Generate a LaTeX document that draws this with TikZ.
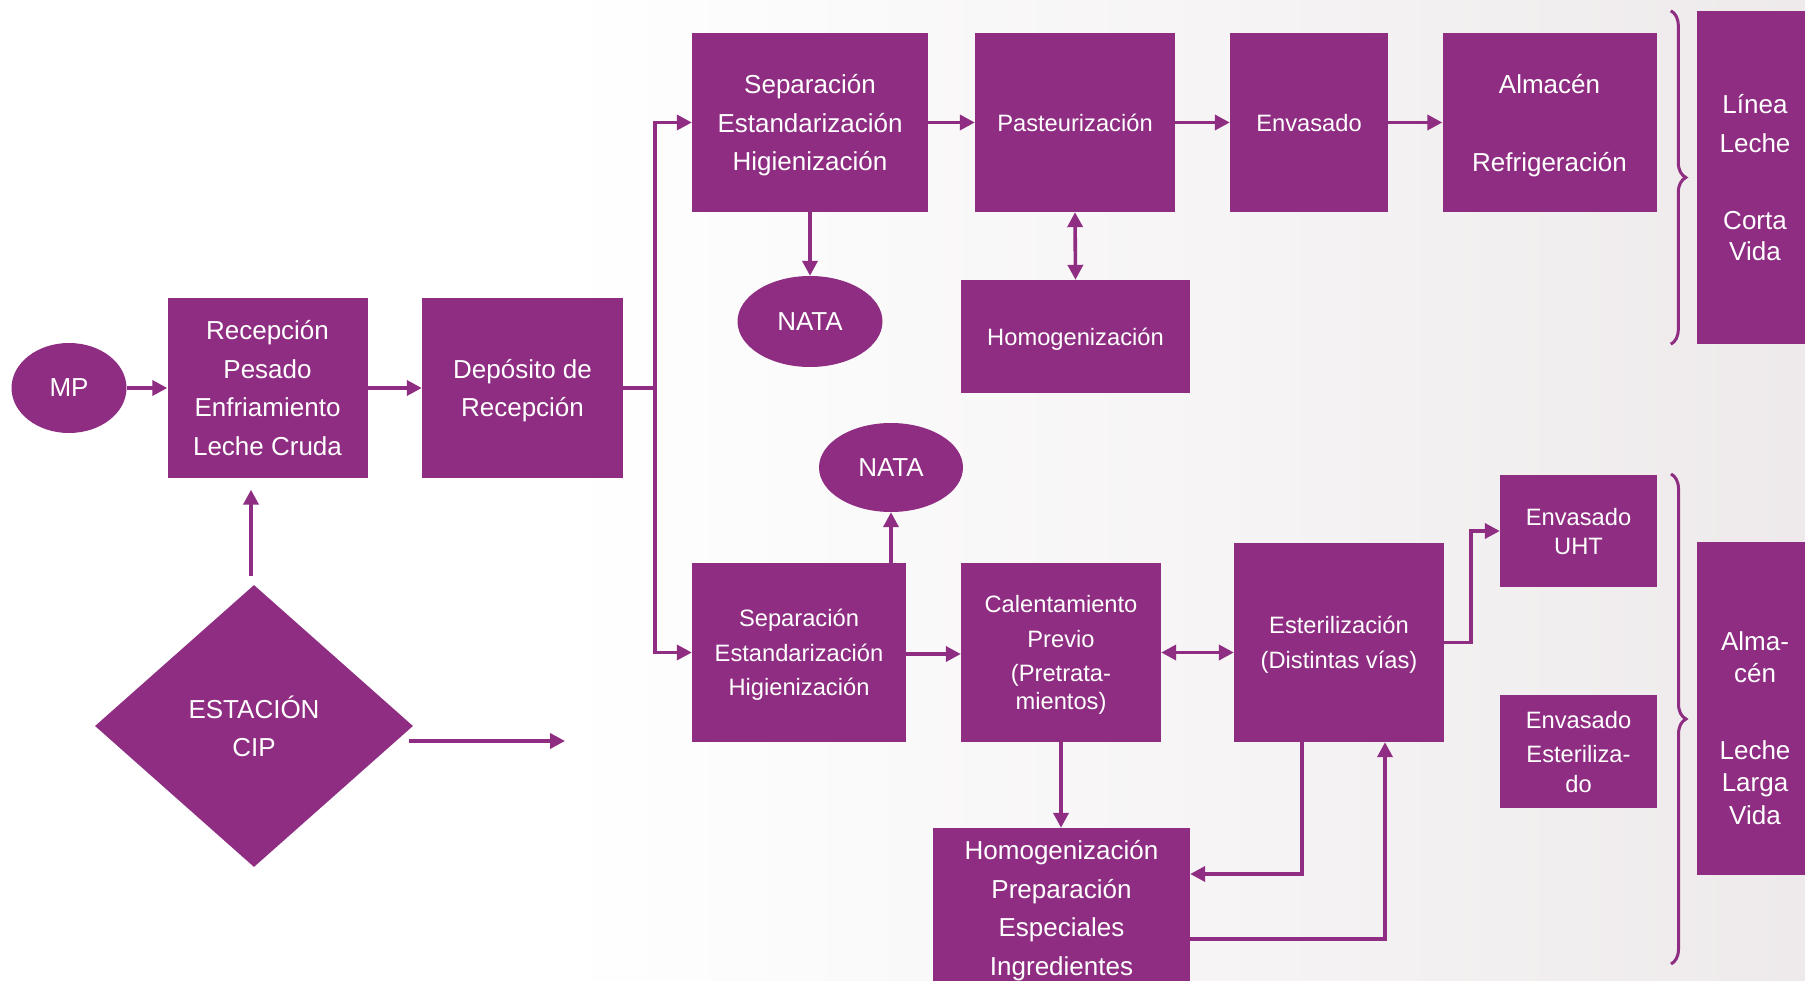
\documentclass[tikz,border=0pt]{standalone}
\usepackage{fontspec}
\setmainfont{Liberation Sans}
\usetikzlibrary{shapes.geometric,arrows.meta,decorations.pathreplacing,calc}
\definecolor{pur}{RGB}{142,45,130}
\definecolor{bgr}{RGB}{238,234,235}
\begin{document}
\begin{tikzpicture}[x=1pt,y=-1pt,
  box/.style={fill=pur,text=white,inner sep=0pt,align=center,text depth=0pt},
  sz/.style 2 args={minimum width=#1pt,minimum height=#2pt},
  big/.style={font=\fontsize{26}{38.5}\selectfont},
  small/.style={font=\fontsize{23.7}{34.5}\selectfont},
  oval/.style={box,ellipse},
  tip/.tip={Triangle[length=15pt,width=15pt]},
  conn/.style={draw=pur,line width=3.6pt,-tip},
  dconn/.style={draw=pur,line width=3.6pt,tip-tip},
  plain/.style={draw=pur,line width=3.6pt},
  brc/.style={draw=pur,line width=3pt,decorate,decoration={brace,amplitude=15pt}}
]
\useasboundingbox (0,0) rectangle (1805,981);
\clip (0,0) rectangle (1805,981);
\fill[white] (0,0) rectangle (1805,981);
\shade[left color=white,right color=bgr] (560,0) rectangle (1805,981);

% nodes
\node[oval,big,sz={115}{90}] (mp) at (69,388) {MP};
\node[box,big,sz={200}{179}] (rec) at (267.5,388) {Recepción\\Pesado\\Enfriamiento\\Leche Cruda};
\node[box,big,sz={201}{179}] (dep) at (522.5,388) {Depósito de\\Recepción};
\node[box,big,diamond,sz={318}{282}] (cip) at (254,726) {ESTACIÓN\\CIP};

\node[box,big,sz={236}{179}] (sep1) at (810,122.5) {Separación\\Estandarización\\Higienización};
\node[box,small,sz={200}{179}] (past) at (1075,122.5) {Pasteurización};
\node[box,small,sz={158}{179}] (env1) at (1309,122.5) {Envasado};
\node[box,big,sz={214}{179}] (alm1) at (1549.5,122.5) {Almacén\\[39.5pt]Refrigeración};
\node[box,big,sz={116}{333}] (corta) at (1755,177.5) {Línea\\Leche\\[38.5pt]Corta\\[-7.5pt]Vida};
\node[oval,big,sz={145}{91}] (nata1) at (810,321.5) {NATA};
\node[box,small,sz={229}{113}] (homog1) at (1075.5,336.5) {Homogenización};

\node[oval,big,sz={144}{89}] (nata2) at (891,467.5) {NATA};
\node[box,small,sz={214}{179}] (sep2) at (799,652.5) {Separación\\Estandarización\\Higienización};
\node[box,small,sz={200}{179}] (calent) at (1061,652.5) {Calentamiento\\Previo\\(Pretrata-\\[-7pt]mientos)};
\node[box,small,sz={210}{199}] (ester) at (1339,642.5) {Esterilización\\(Distintas vías)};
\node[box,small,sz={157}{112}] (uht) at (1578.5,531) {Envasado\\[-5.5pt]UHT};
\node[box,small,sz={157}{113}] (esterd) at (1578.5,751.5) {Envasado\\Esteriliza-\\[-5pt]do};
\node[box,sz={116}{333}] (larga) at (1755,708.5) {};
\node[text=white,align=center,inner sep=0pt,big] (largatxt) at (1755,728) {Alma-\\[-6.5pt]cén\\[38.5pt]Leche\\[-6pt]Larga\\[-6pt]Vida};
\node[box,big,sz={257}{160}] (homog2) at (1061.5,908) {Homogenización\\Preparación\\Especiales\\Ingredientes};

% braces
\draw[brc] ([xshift=-26pt]corta.north west) -- ([xshift=-26pt]corta.south west);
\draw[brc] (1671,474) -- (1671,964);

% connectors
\draw[conn] (mp.east) -- (rec.west);
\draw[conn] (rec.east) -- (dep.west);
\coordinate (tr) at (655,388);
\draw[plain] (dep.east) -- (tr);
\draw[conn] (tr) |- (sep1.west);
\draw[conn] (tr) |- (sep2.west);

\draw[conn] (sep1.east) -- (past.west);
\draw[conn] (past.east) -- (env1.west);
\draw[conn] (env1.east) -- (alm1.west);
\draw[conn] (sep1.south) -- (nata1.north);
\draw[dconn] (past.south) -- (homog1.north);

\draw[conn] (nata2.south |- sep2.north) -- (nata2.south);
\draw[conn] (sep2.east |- 0,654) -- (calent.west |- 0,654);
\draw[dconn] (calent.east) -- (calent.east -| ester.west);
\draw[conn] (ester.east) -- ++(27,0) |- (uht.west);
\draw[conn] (calent.south) -- (homog2.north -| calent.south);
\coordinate (e1) at (1302,874);
\draw[conn] (e1 |- ester.south) -- (e1) -- (e1 -| homog2.east);
\coordinate (e2) at (1385,939);
\draw[conn] (e2 -| homog2.east) -- (e2) -- (e2 |- ester.south);

\coordinate (c1) at (251,0);
\draw[conn,shorten <=9pt,shorten >=12pt] (c1 |- cip.north) -- (c1 |- rec.south);
\coordinate (cipend) at (565,741);
\draw[conn] ([xshift=-4pt]cip.east |- cipend) -- (cipend);
\end{tikzpicture}
\end{document}
